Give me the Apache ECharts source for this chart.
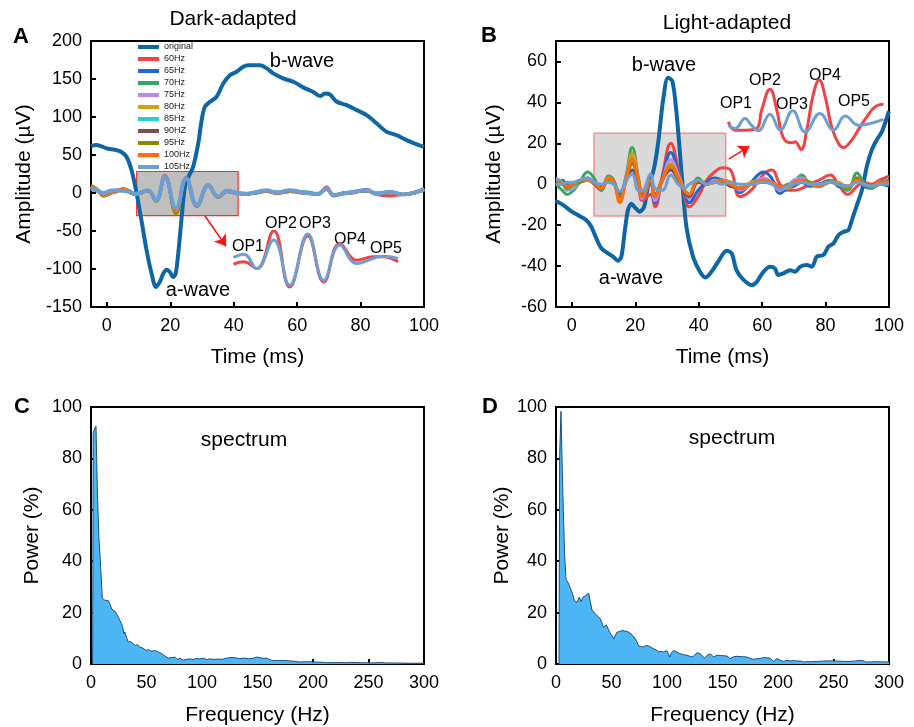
<!DOCTYPE html>
<html><head><meta charset="utf-8">
<script src="https://cdn.jsdelivr.net/npm/echarts@6/dist/echarts.min.js"></script>
<style>html,body{margin:0;padding:0;background:#fff}#c{width:914px;height:727px}</style>
</head><body><div id="c"></div>
<script>
// ---------- DATA ----------
const legendNames = ['original','60Hz','65Hz','70Hz','75Hz','80Hz','85Hz','90HZ','95Hz','100Hz','105Hz'];
const xTicksTime = [0,20,40,60,80,100];
const yTicksA = [-150,-100,-50,0,50,100,150,200];
const yTicksB = [-60,-40,-20,0,20,40,60];

// Panel A (dark-adapted) original trace
const tOrigA = [-5,-3.3,-1.5,0,1.5,3,4.6,6.2,7.8,9.4,10.9,12.5,14.1,15.5,16.7,17.8,18.8,19.9,20.9,21.7,22.5,23.6,24.6,25.7,27.2,28.8,29.9,30.9,32.5,34.6,36.7,38.8,40.9,43,44.6,46.5,48.3,50.4,52.5,55.6,58.8,61.9,65.1,67.2,68.8,70.3,72.5,75.6,78.8,81.9,85.1,88.2,91.4,94.5,97.7,100];
const origA = [61.7,63,61,58.6,57.5,56.4,54,47.6,30,-0.7,-35.8,-75,-106,-123.7,-117,-106,-101,-104,-110.5,-106,-80,-31.4,8,21,34.4,65,96,113.5,120,126.7,144,155,159.6,166,168,168,168,164,157.4,150.8,146.4,139,133,127.5,131,129.7,120,115.7,109,102.5,91.5,80.5,76,69.6,64,60.8];

// Panel A filtered traces
const tA = [-5,-3,-1,1,3,5,7,9,11,13,15.5,18.3,21.8,25,28.4,32,35.1,37.9,41,44,47,50.4,53.5,57.7,61,64,66.5,69.3,71.5,74.5,77.7,81.9,85,89.3,93.5,97.7,100];
const a60  = [5,2,-2,2,3,4,1,-2,0,3,-10,23.5,-22,20,-17,11,-5,2,-1,-2,1,3,-1,3,0,-1,-2,8,-3,-1,0,5,-2,-3.5,-2,2,6];
const a65  = [7,3,-3,1,3,5,2,-2,1,3,-10,22,-23,19,-17,10,-5,2,0,-1,0,3,0,2,1,0,-2,6,-3,0,1,4,-1,1,-2,1,5];
const a70  = [8,4,-3,0,2,5,2,-1,1,3,-10,22,-24,20,-16,10,-5,3,1,-2,1,3,1,2,2,1,-2,5,-2,-1,2,3,0,2,-2,1,4];
const a75  = [7,3,-2,1,3,4,2,-1,1,3,-10,22,-24,19,-17,10,-5,2,0,-1,0,3,0,3,1,0,-1,5,-3,0,1,4,-1,1,-2,1,5];
const a80  = [9,4,-4,0,2,5,3,-2,0,3,-11,21,-26,19,-17,10,-6,3,0,-1,1,2,0,2,1,0,-1,5,-3,-1,1,3,-1,1,-2,1,5];
const a85  = [8,3,-3,1,2,4,2,-1,1,3,-10,22,-24,19,-16,10,-5,2,1,-1,1,3,1,3,1,0,-1,5,-3,0,2,3,0,1,-2,1,5];
const a90  = [8,4,-3,0,2,5,2,-2,1,3,-10,21,-25,19,-17,10,-5,2,0,-1,0,3,0,2,1,0,-1,5,-3,0,1,3,-1,1,-2,1,4];
const a95  = [10,5,-4,-1,2,5.5,3,-2,0,3,-11,21,-27,19,-17,10,-6,3,0,-1,1,2,0,2,1,0,-1,5,-3,-1,1,3,-1,1,-2,1,4];
const a100 = [8,4,-3,0,2,5,2,-2,1,3,-10,22,-24,19,-16,10,-5,2,0,-1,1,3,0,3,1,0,-1,5,-3,0,1,4,-1,1,-2,1,5];
const a105 = [6,3,0,3,3.5,2.8,1.5,-1,1,3.7,-9.5,21,-20.5,19,-16,10.3,-5,2.8,0,-1,1,3.7,0.6,3.7,1.4,-0.5,-1,6,-3.5,-0.5,1.4,3.7,-1,1.4,-2,1.4,5.5];

// Panel A inset (OP1-OP5 magnified)
const insetAT    = [9.5,11.5,14,17.3,20.4,23.9,27,30.1,33.4,36.6,38.5,41.4];
const insetARed  = [-2.6,-0.4,-6.6,28.3,-23.6,23.3,-19,16.6,1.1,4.2,4.2,-0.4];
const insetABlue = [3.6,6.7,-6.6,19.6,-22,25.2,-17.4,15,-2,2.7,4.8,2.7];

// Panel B (light-adapted) original trace
const tOrigB = [-5.2,-2.8,0,2.4,4.5,6.1,7.7,9.3,11.4,13,14.5,15.6,16.6,17.7,18.8,19.8,21.4,22.8,24,25.8,27.2,28.8,30.3,31.7,33,34.6,36.1,38.2,40.4,42.1,44,46.1,48.8,50.4,51.9,54,56.7,58.3,60.4,62.5,64,65.1,66.7,68.8,70.4,72,74.1,75.7,77.2,79.3,80.9,82.5,84.1,85.7,87.2,88.3,89.9,91.5,93,94.6,96.2,97.8,100];
const origB = [-8.1,-10.1,-13.4,-15.5,-17.5,-20.7,-26.4,-31.3,-33.8,-35.4,-37.4,-35.4,-24,-12.5,-9.6,-11.2,-13.4,-10.9,-1.1,7,20.1,41.4,52,50.4,34.8,5.4,-20.7,-35.4,-42.8,-45.6,-42.8,-37.9,-32.5,-33.8,-42,-46.5,-49.3,-47.7,-42.8,-40.3,-41.1,-44.4,-43.6,-42,-42.8,-40.3,-39.5,-40.3,-35.4,-34.6,-30.5,-28.9,-24.8,-23.2,-22.4,-17.5,-10.1,-2.7,8.7,16.9,21.8,25.8,35.7];

// Panel B filtered traces
const tB = [-5,-3,-1.5,0.5,2.5,5,7,9.3,11.5,13.2,15.1,17.2,19,21,22.2,24.8,26.2,28.5,31.2,33.5,35.5,37,39.8,42.5,45,47.5,50,53,56.5,60.5,63,65.6,68,70,72.5,75,78,81.5,84,87,89.9,92,94.5,97,100];
const b60  = [2,1,-1,0,1,2,0,-3,3,1,-5,4,13,2,-8,-5,-11,4,20,8,-6,-11,-6,2,6,8,7,-6,-3,5,7,0,-3,-3,-2,0,2,4.5,0,-5,-1,1,0,2,4];
const b65  = [1,2,0,-1,1,3,1,-2,3,1,-6,3,11,1,-7,0,-9,3,15.5,6,-4,-9,-3,1,3,2,1,-4,1,6,3,-4.5,-2,-1,1,-1,0,2,-1,-2,2,-1,-2,0,-1];
const b70  = [0,-3,-5,-3,1,6,3,-3,4,2,-7,5,18,3,-6,2,-7,2,9,4,-3,-5,3,0,1,2,0,-2,0,2,1,-2,0,1,4.5,0,-1,2,0,-3,5.5,1,-2,1,2];
const b75  = [3,1,-3,-2,1,3,1,-2,3,1,-6,4,14,2,-7,1,-8,2,12,5,-3,-7,1,0,2,1,0,-3,0,3,1,-3,-1,2,3,1,0,1,0,-2,3,0,-1,1,1];
const b80  = [1,0,-2,0,1,2,1,-2,3,1,-7,3,15,2,-6,2,-6,2,10,4,-3,-5,2,0,1,2,1,-2,1,2,1,-2,-2,0,2,1,-1,1,1,-2,3,0,-1,0,1];
const b85  = [2,1,-2,-1,1,2,1,-2,2,1,-6,3,11,2,-5,2,-6,2,8,3,-3,-5,2,0,1,1,0,-2,0,2,1,-2,-1,1,2,0,0,1,0,-1,2,0,-1,0,1];
const b90  = [1,0,-1,0,1,2,1,-1,2,1,-5,2,7,1,-5,1,-5,2,7,2,-4,-6,1,0,1,1,-1,-2,0,1,1,-1,-1,0,1,0,0,1,0,-1,2,0,-1,0,0];
const b95  = [1,1,-2,0,1,2,1,-2,2,1,-6,3,10,2,-6,2,-6,2,9,3,-3,-5,2,0,1,1,0,-2,0,1,1,-2,-1,0,2,1,-1,1,0,-2,3,0,-1,0,1];
const b100 = [0,1,-1,0,2,2,1,-2,3,1,-9,3,12,2,-6,2,-6,2,9,3,-3,-5,2,0,1,2,0,-2,0,2,1,-1,-1,1,2,0,-1,1,0,-1,2,0,-1,1,1];
const b105 = [0,0,1,1,2,3,1,0,1,0,-3.5,2,5,-3,-3,5,-2,-3,4.5,0,-2,0,2,0,1,0,1,0,0,1,0,-2.5,-1,0,1,0,0,1,0,-1,1,0,-1,0,0];

// Panel B inset
const insetBTRed  = [7.1,8.9,11.9,14.6,15.9,18.1,19.9,21.2,22.5,23.9,24.7,26.3,27.8,29.6,31.1,32.7,34.4,36.2,37.5,39.7,41.9,43.7,45.9,48.1];
const insetBRed   = [2.2,-1.25,-1.25,-0.55,7.1,15.7,7.1,-2.6,-6.1,-6.5,-6.1,-9.3,-1.25,14,19.6,12.6,0.1,-6.8,-8.5,-5.4,0.1,4.3,8.5,9.5];
const insetBTBlue = [7.1,8.9,11.5,13.2,15,18.1,20.8,24.1,27.4,31.3,34.9,38,41.5,44.6,48.1];
const insetBBlue  = [0.8,-0.55,3.6,0.8,-1.5,5.4,-1.25,6.8,-2,5.7,-1.25,4.6,0.8,1.5,3.2];

// Panel C spectrum (dark-adapted)
const freqC  = [1.5,2,3.3,4.5,5.7,7.2,8.7,10.2,12.6,15.6,17.1,18.6,20,21.6,23,24.6,26,27.6,29,29.7,30.5,31.5,33.6,35.5,38,40,42,44,46,48,50,52,54,56,58,60.7,63,65,67,69.7,71,72.5,74.2,76,78,80.2,83,86,89,92,95,98,101,104,107,110,114,118,122,126,130,134,138,142,146,149,152,155,158,160,162.8,166,170,176,182,188,194,200,206,212,218,224,230,236,242,248,254,260,266,272,278,284,290,296,300];
const powerC = [0,90,91.5,92.5,68,48.5,38,25.5,24.8,24.6,23.3,21.4,21.8,20.5,19.5,18.2,17,15.6,13.5,11.7,12.5,11,8.5,8.8,7.9,7.2,7.5,6.6,6.3,5.8,5.3,5.6,5,5.1,5.2,4.6,4.2,3.6,3,2.3,1.6,2.5,2,2.6,1.8,2.3,1.5,1.8,2,1.7,2.2,2,2.3,1.7,2,1.8,1.9,1.8,2.3,2.5,2.4,2.1,2.3,2,2.2,2.7,2.5,2.2,2.3,1.9,1.4,1.3,1.4,1.3,1.1,0.8,0.9,0.8,0.7,0.6,0.5,0.6,0.5,0.6,0.5,0.5,0.4,0.6,0.4,0.4,0.4,0.3,0.3,0.3,0.3];

// Panel D spectrum (light-adapted)
const freqD  = [2.7,3.3,4.5,5.7,6.9,7.8,9,10.5,12.3,14.4,16.5,18.9,21,22.5,24.3,26.4,28,29.4,30.9,32.4,35.4,38,39.9,42.9,45.3,48.3,50.5,52,55,57,59.5,62,64,66,68.5,71.5,74.5,77,79,81,83.5,86,88,90,92.5,95,97,100,102.4,104,106,109,112,115,118,120,122.5,125,127,130,133.6,136,139,142,145,148,151,154,157,160,163,166,169,172,175,178,181,184,187,190,193,196,199,202,205,208,211,214,217,220,223,226,230,235,240,245,250,255,260,265,270,274,277,279,284,290,295,300];
const powerD = [0,81,98.3,74.4,55,42,33,32,32.4,28,24.7,24,26,24.3,26,26.6,27,27.6,27.3,21,19.5,18.5,17.6,14.3,15.2,12.4,11,9.8,12.4,12.6,13,12.8,12.7,12.2,11.4,9.8,7,6.8,6.6,7.2,7,6.4,5.9,5.6,4.7,4.9,4.7,5.2,2.7,4.4,5.3,4.6,4,3.6,3.4,3.1,2.7,3.4,4.4,4,2.3,3.3,4,2.7,3.4,3.3,3.2,3.1,2.1,2.8,3,2.9,2.8,2.7,2.2,1.8,2.1,2.2,2.5,2.4,2.3,1,2.1,1.5,1,1.4,1.2,1.4,1.1,1.2,0.8,0.9,0.9,1,1.1,1.2,1.2,1.1,1,1,1.2,1.4,1.3,0.8,0.8,0.9,0.8,0.8];

// ---------- CHART ----------
const FONT = '"Liberation Sans", Arial, sans-serif';
const zip = (xs, ys) => xs.map((x, i) => [x, ys[i]]);
const colors = {
  original:'#0e66a7', '60Hz':'#ee4444', '65Hz':'#1f66d1', '70Hz':'#3aa562', '75Hz':'#b98ae6',
  '80Hz':'#d5a112', '85Hz':'#27cdd0', '90HZ':'#7c4f4f', '95Hz':'#8c8a00', '100Hz':'#ff6a12', '105Hz':'#6b9fd6'
};
const filtA = [a60,a65,a70,a75,a80,a85,a90,a95,a100,a105];
const filtB = [b60,b65,b70,b75,b80,b85,b90,b95,b100,b105];

function xAxisMain(gi, name, opts) {
  return Object.assign({
    gridIndex: gi, type: 'value', name: name, nameLocation: 'middle', nameGap: 40,
    nameTextStyle: {fontSize: 21, color: '#000', fontFamily: FONT},
    axisLine: {show: true, onZero: false, lineStyle: {color: '#000', width: 2}},
    axisTick: {show: true, inside: true, length: 5, lineStyle: {color: '#000', width: 2}},
    axisLabel: {fontSize: 18, color: '#000', margin: 10, fontFamily: FONT},
    splitLine: {show: false}
  }, opts);
}
function yAxisMain(gi, name, gap, opts) {
  return Object.assign({
    gridIndex: gi, type: 'value', name: name, nameLocation: 'middle', nameGap: gap,
    nameTextStyle: {fontSize: 21, color: '#000', fontFamily: FONT},
    axisLine: {show: true, onZero: false, lineStyle: {color: '#000', width: 2}},
    axisTick: {show: true, inside: true, length: 5, lineStyle: {color: '#000', width: 2}},
    axisLabel: {fontSize: 18, color: '#000', margin: 9, fontFamily: FONT},
    splitLine: {show: false}
  }, opts);
}
const hiddenAxis = (gi, min, max) => ({gridIndex: gi, type: 'value', min: min, max: max, show: false, splitLine: {show: false}});
const tickCfg = (vals) => ({show: true, inside: true, length: 5, lineStyle: {color: '#000', width: 2}, customValues: vals});
const labelCfg = (vals, margin) => ({fontSize: 18, color: '#000', margin: margin, fontFamily: FONT, customValues: vals});

const gridStyle = {show: true, borderColor: '#000', borderWidth: 2, backgroundColor: 'transparent', containLabel: false};
const grids = [
  Object.assign({left: 91, top: 41, width: 333, height: 266}, gridStyle),
  Object.assign({left: 556, top: 41, width: 333, height: 266}, gridStyle),
  Object.assign({left: 91, top: 407, width: 333, height: 258}, gridStyle),
  Object.assign({left: 556, top: 407, width: 333, height: 258}, gridStyle),
  {left: 233, top: 231, width: 165, height: 63, show: false},
  {left: 728, top: 67, width: 157, height: 89, show: false}
];

const xAxes = [
  xAxisMain(0, 'Time (ms)', {min: -5, max: 100, axisTick: tickCfg(xTicksTime), axisLabel: labelCfg(xTicksTime, 10)}),
  xAxisMain(1, 'Time (ms)', {min: -5, max: 100, axisTick: tickCfg(xTicksTime), axisLabel: labelCfg(xTicksTime, 10)}),
  xAxisMain(2, 'Frequency (Hz)', {min: 0, max: 300, interval: 50, nameGap: 41}),
  xAxisMain(3, 'Frequency (Hz)', {min: 0, max: 300, interval: 50, nameGap: 41}),
  hiddenAxis(4, 9.4, 41.4),
  hiddenAxis(5, 7, 48.5)
];
const yAxes = [
  yAxisMain(0, 'Amplitude (\u00b5V)', 56, {min: -150, max: 200, axisTick: tickCfg(yTicksA), axisLabel: labelCfg(yTicksA, 9)}),
  yAxisMain(1, 'Amplitude (\u00b5V)', 51, {min: -60, max: 70, axisTick: tickCfg(yTicksB), axisLabel: labelCfg(yTicksB, 9)}),
  yAxisMain(2, 'Power (%)', 48, {min: 0, max: 100, interval: 20}),
  yAxisMain(3, 'Power (%)', 42, {min: 0, max: 100, interval: 20}),
  hiddenAxis(4, -30, 28),
  hiddenAxis(5, -12, 25)
];

const arrowLine = (from, to) => ({
  silent: true, symbol: ['none', 'arrow'], symbolSize: 11, label: {show: false},
  lineStyle: {color: '#ff1010', width: 1.5, type: 'solid'},
  emphasis: {disabled: true},
  data: [[{coord: from}, {coord: to}]]
});

const series = [];
// Panel A
series.push({
  name: 'original', type: 'line', xAxisIndex: 0, yAxisIndex: 0, data: zip(tOrigA, origA),
  symbol: 'none', smooth: 0.3, lineStyle: {width: 4, color: colors.original}, itemStyle: {color: colors.original},
  markArea: {silent: true, itemStyle: {color: '#bfbfbf', borderColor: '#ff2a2a', borderWidth: 1.2},
    data: [[{coord: [9.4, 28.3]}, {coord: [41.4, -29.9]}]]},
  markLine: arrowLine([30.9, -30], [37.6, -70])
});
legendNames.slice(1).forEach((n, i) => {
  series.push({name: n, type: 'line', xAxisIndex: 0, yAxisIndex: 0, data: zip(tA, filtA[i]),
    symbol: 'none', smooth: 0.45, lineStyle: {width: i === 9 ? 4 : 3, color: colors[n]}, itemStyle: {color: colors[n]}});
});
// Panel A inset
series.push({name: 'insetA 60Hz', type: 'line', xAxisIndex: 4, yAxisIndex: 4, data: zip(insetAT, insetARed),
  symbol: 'none', smooth: 0.45, lineStyle: {width: 3, color: colors['60Hz']}, itemStyle: {color: colors['60Hz']}});
series.push({name: 'insetA 105Hz', type: 'line', xAxisIndex: 4, yAxisIndex: 4, data: zip(insetAT, insetABlue),
  symbol: 'none', smooth: 0.45, lineStyle: {width: 3, color: colors['105Hz']}, itemStyle: {color: colors['105Hz']}});

// Panel B
series.push({
  name: 'original', type: 'line', xAxisIndex: 1, yAxisIndex: 1, data: zip(tOrigB, origB),
  symbol: 'none', smooth: 0.3, lineStyle: {width: 4, color: colors.original}, itemStyle: {color: colors.original},
  markArea: {silent: true, itemStyle: {color: '#dadada', borderColor: '#f29090', borderWidth: 1.5},
    data: [[{coord: [7, 24.9]}, {coord: [48.5, -15.5]}]]},
  markLine: arrowLine([49.5, 12.3], [56, 18.6])
});
legendNames.slice(1).forEach((n, i) => {
  series.push({name: n, type: 'line', xAxisIndex: 1, yAxisIndex: 1, data: zip(tB, filtB[i]),
    symbol: 'none', smooth: 0.45, lineStyle: {width: 3, color: colors[n]}, itemStyle: {color: colors[n]}});
});
series.push({name: 'insetB 60Hz', type: 'line', xAxisIndex: 5, yAxisIndex: 5, data: zip(insetBTRed, insetBRed),
  symbol: 'none', smooth: 0.45, lineStyle: {width: 3, color: colors['60Hz']}, itemStyle: {color: colors['60Hz']}});
series.push({name: 'insetB 105Hz', type: 'line', xAxisIndex: 5, yAxisIndex: 5, data: zip(insetBTBlue, insetBBlue),
  symbol: 'none', smooth: 0.45, lineStyle: {width: 3, color: colors['105Hz']}, itemStyle: {color: colors['105Hz']}});

// Spectra
[[2, freqC, powerC], [3, freqD, powerD]].forEach(([gi, f, p]) => {
  series.push({name: 'spectrum ' + gi, type: 'line', xAxisIndex: gi, yAxisIndex: gi, data: zip(f, p),
    symbol: 'none', lineStyle: {width: 1, color: '#1b4e7e'}, itemStyle: {color: '#1b4e7e'},
    areaStyle: {color: '#4db7f6', opacity: 1, origin: 'start'}});
});

const txt = (text, x, y, size, bold, align) => ({
  type: 'text', x: x, y: y, silent: true,
  style: {text: text, fill: '#000', font: (bold ? 'bold ' : '') + size + 'px ' + FONT,
    textAlign: align || 'center', textVerticalAlign: 'middle'}
});

const graphics = [
  txt('A', 13, 37, 22, true, 'left'),
  txt('B', 481, 36, 22, true, 'left'),
  txt('C', 14, 407, 22, true, 'left'),
  txt('D', 482, 407, 22, true, 'left'),
  txt('Dark-adapted', 233, 19, 21),
  txt('Light-adapted', 727, 23, 21),
  txt('b-wave', 302, 61, 20),
  txt('a-wave', 198, 290, 20),
  txt('OP1', 248, 247, 16),
  txt('OP2', 281, 224, 16),
  txt('OP3', 315, 224, 16),
  txt('OP4', 350, 240, 16),
  txt('OP5', 386, 249, 16),
  txt('b-wave', 664, 65, 20),
  txt('a-wave', 631, 278, 20),
  txt('OP1', 736, 104, 16),
  txt('OP2', 765, 81, 16),
  txt('OP3', 792, 105, 16),
  txt('OP4', 825, 76, 16),
  txt('OP5', 854, 102, 16),
  txt('spectrum', 244, 440, 21),
  txt('spectrum', 732, 438, 21)
];

const chart = echarts.init(document.getElementById('c'), null, {renderer: 'canvas', width: 914, height: 727});
chart.setOption({
  animation: false,
  backgroundColor: '#fff',
  textStyle: {fontFamily: FONT},
  grid: grids,
  xAxis: xAxes,
  yAxis: yAxes,
  legend: {
    data: legendNames, orient: 'vertical', left: 138, top: 42, padding: 0,
    itemWidth: 21, itemHeight: 4, itemGap: 2, icon: 'rect',
    textStyle: {fontSize: 9, color: '#222', lineHeight: 10, fontFamily: FONT},
    selectedMode: false
  },
  series: series,
  graphic: graphics
});
</script>
</body></html>
